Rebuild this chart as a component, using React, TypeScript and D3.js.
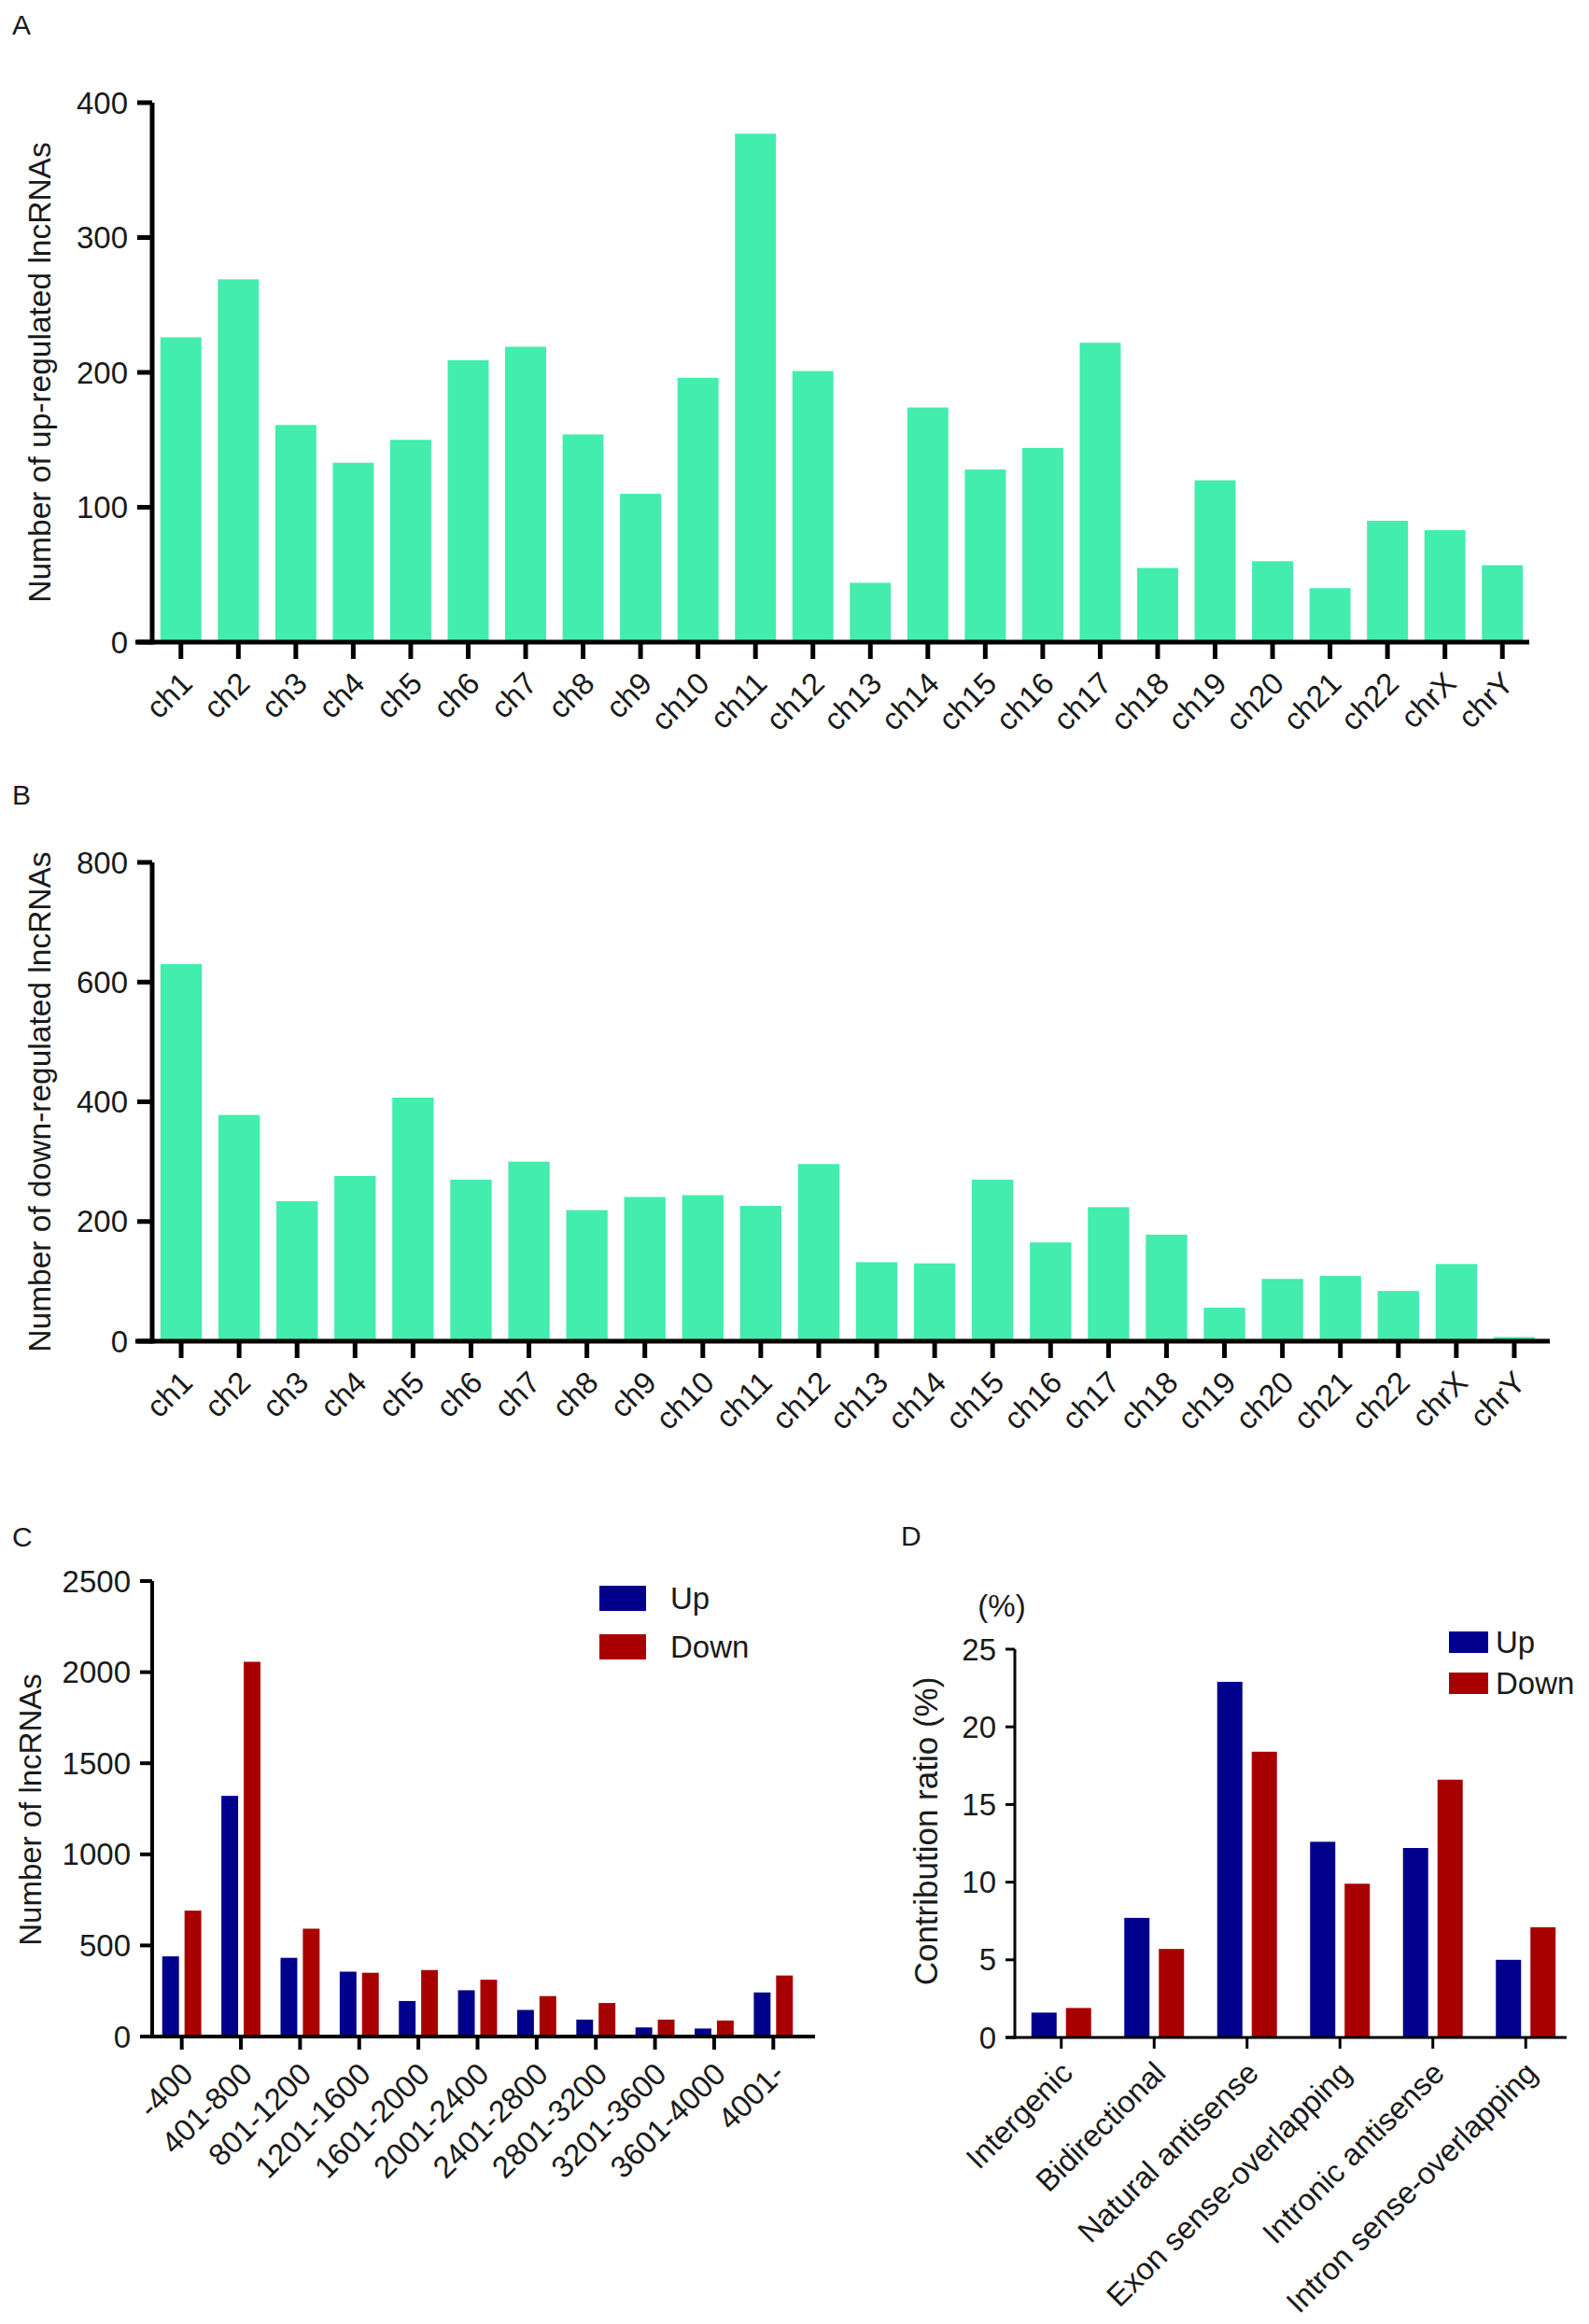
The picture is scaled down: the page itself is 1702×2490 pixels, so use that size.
import React, { useEffect } from "react";
import * as d3 from "d3";

// ---------- DATA ----------
const chromosomes = ["ch1","ch2","ch3","ch4","ch5","ch6","ch7","ch8","ch9","ch10","ch11","ch12","ch13","ch14","ch15","ch16","ch17","ch18","ch19","ch20","ch21","ch22","chrX","chrY"];
const upByChrom = [226,269,161,133,150,209,219,154,110,196,377,201,44,174,128,144,222,55,120,60,40,90,83,57];
const downByChrom = [630,378,234,276,407,270,300,219,241,244,226,296,132,130,270,165,224,178,56,104,109,84,129,7];
const aTicks = [0,100,200,300,400];
const bTicks = [0,200,400,600,800];

const lengthBins = ["-400","401-800","801-1200","1201-1600","1601-2000","2001-2400","2401-2800","2801-3200","3201-3600","3601-4000","4001-"];
const upByLength = [440,1321,432,356,195,254,146,93,50,44,242];
const downByLength = [691,2057,592,350,365,312,222,184,93,88,335];
const cTicks = [0,500,1000,1500,2000,2500];

const classes = ["Intergenic","Bidirectional","Natural antisense","Exon sense-overlapping","Intronic antisense","Intron sense-overlapping"];
const upRatio = [1.6,7.7,22.9,12.6,12.2,5.0];
const downRatio = [1.9,5.7,18.4,9.9,16.6,7.1];
const dTicks = [0,5,10,15,20,25];

const seriesNames = ["Up","Down"];

// ---------- STYLE ----------
const GREEN = "#43EDAD";
const BLUE = "#00008C";
const RED = "#A80000";
const FONT = "'Liberation Sans', Arial, Helvetica, sans-serif";
const TXT = "#1a1a1a";

type SingleProps = {
  cats: string[]; vals: number[]; ticks: number[];
  x0: number; x1: number; axisEnd: number; yTop: number; y0: number;
  title: string; titleX: number; titleSize: number; sw: number; tickLen: number; labDy: number;
};

function SinglePanel(p: SingleProps) {
  const x = d3.scaleBand<string>().domain(p.cats).range([p.x0, p.x1]).paddingInner(0.286).paddingOuter(0.143);
  const y = d3.scaleLinear().domain([0, p.ticks[p.ticks.length - 1]]).range([p.y0, p.yTop]);
  return (
    <g>
      {p.cats.map((c, i) => (
        <rect key={c} x={x(c)} y={y(p.vals[i])} width={x.bandwidth()} height={p.y0 - y(p.vals[i])} fill={GREEN} />
      ))}
      <line x1={p.x0} x2={p.x0} y1={y(p.ticks[p.ticks.length - 1])} y2={p.y0 + p.sw / 2} stroke="#000" strokeWidth={p.sw} />
      <line x1={p.x0 - p.tickLen} x2={p.axisEnd} y1={p.y0} y2={p.y0} stroke="#000" strokeWidth={p.sw} />
      {p.ticks.map((t) => (
        <g key={t}>
          <line x1={p.x0 - 16} x2={p.x0} y1={y(t)} y2={y(t)} stroke="#000" strokeWidth={p.sw} />
          <text x={p.x0 - 26} y={y(t)} dy="0.35em" textAnchor="end" fontSize={33} fill={TXT}>{t}</text>
        </g>
      ))}
      {p.cats.map((c) => {
        const cx = (x(c) as number) + x.bandwidth() / 2;
        return (
          <g key={c}>
            <line x1={cx} x2={cx} y1={p.y0} y2={p.y0 + p.tickLen} stroke="#000" strokeWidth={p.sw} />
            <text transform={`translate(${cx + 6},${p.y0 + p.labDy}) rotate(-45)`} textAnchor="end" dy="0.35em" fontSize={33} fill={TXT}>{c}</text>
          </g>
        );
      })}
      <text transform={`translate(${p.titleX},${(p.y0 + p.yTop) / 2}) rotate(-90)`} textAnchor="middle" dy="0.35em" fontSize={p.titleSize} fill={TXT}>{p.title}</text>
    </g>
  );
}

type GroupProps = {
  cats: string[]; up: number[]; down: number[]; ticks: number[];
  x0: number; x1: number; axisEnd: number; yTop: number; y0: number;
  inner: number; sub: number; sw: number; yTickLen: number; xTickLen: number; labDy: number;
  title: string; titleX: number; titleY: number; titleSize: number; fontSize: number;
};

function GroupPanel(p: GroupProps) {
  const x = d3.scaleBand<string>().domain(p.cats).range([p.x0, p.x1]).paddingInner(p.inner).paddingOuter(p.inner / 2);
  const xs = d3.scaleBand<string>().domain(seriesNames).range([0, x.bandwidth()]).paddingInner(p.sub);
  const y = d3.scaleLinear().domain([0, p.ticks[p.ticks.length - 1]]).range([p.y0, p.yTop]);
  const colors = [BLUE, RED];
  return (
    <g>
      {p.cats.map((c, i) => (
        <g key={c}>
          {[p.up[i], p.down[i]].map((v, k) => (
            <rect key={k} x={(x(c) as number) + (xs(seriesNames[k]) as number)} y={y(v)} width={xs.bandwidth()} height={p.y0 - y(v)} fill={colors[k]} />
          ))}
        </g>
      ))}
      <line x1={p.x0} x2={p.x0} y1={y(p.ticks[p.ticks.length - 1])} y2={p.y0 + p.sw / 2} stroke="#000" strokeWidth={p.sw} />
      <line x1={p.x0 - p.yTickLen} x2={p.axisEnd} y1={p.y0} y2={p.y0} stroke="#000" strokeWidth={p.sw} />
      {p.ticks.map((t) => (
        <g key={t}>
          <line x1={p.x0 - p.yTickLen} x2={p.x0} y1={y(t)} y2={y(t)} stroke="#000" strokeWidth={p.sw} />
          <text x={p.x0 - p.yTickLen - 10} y={y(t)} dy="0.35em" textAnchor="end" fontSize={33} fill={TXT}>{t}</text>
        </g>
      ))}
      {p.cats.map((c) => {
        const cx = (x(c) as number) + x.bandwidth() / 2;
        return (
          <g key={c}>
            <line x1={cx} x2={cx} y1={p.y0} y2={p.y0 + p.xTickLen} stroke="#000" strokeWidth={p.sw} />
            <text transform={`translate(${cx + 6},${p.y0 + p.labDy}) rotate(-45)`} textAnchor="end" dy="0.35em" fontSize={p.fontSize} fill={TXT}>{c}</text>
          </g>
        );
      })}
      <text transform={`translate(${p.titleX},${p.titleY}) rotate(-90)`} textAnchor="middle" dy="0.35em" fontSize={p.titleSize} fill={TXT}>{p.title}</text>
    </g>
  );
}

function Legend({ x, y, w, h, gap, tx }: { x: number; y: number; w: number; h: number; gap: number; tx: number }) {
  const colors = [BLUE, RED];
  return (
    <g>
      {seriesNames.map((s, i) => (
        <g key={s}>
          <rect x={x} y={y + i * gap} width={w} height={h} fill={colors[i]} />
          <text x={tx} y={y + i * gap + h / 2} dy="0.35em" fontSize={33} fill={TXT}>{s}</text>
        </g>
      ))}
    </g>
  );
}

export default function App() {
  useEffect(() => {
    document.body.style.margin = "0";
  }, []);
  return (
    <svg width={1702} height={2490} viewBox="0 0 1702 2490" style={{ display: "block", background: "#fff", fontFamily: FONT }}>
      <rect width={1702} height={2490} fill="#fff" />
      {/* Panel A */}
      <text x={13} y={37} fontSize={30} fill={TXT}>A</text>
      <SinglePanel cats={chromosomes} vals={upByChrom} ticks={aTicks}
        x0={163} x1={1640} axisEnd={1638} yTop={110} y0={688}
        title="Number of up-regulated lncRNAs" titleX={42} titleSize={33.5} sw={5} tickLen={18} labDy={38} />
      {/* Panel B */}
      <text x={13} y={862} fontSize={30} fill={TXT}>B</text>
      <SinglePanel cats={chromosomes} vals={downByChrom} ticks={bTicks}
        x0={163} x1={1653} axisEnd={1660} yTop={924} y0={1437}
        title="Number of down-regulated lncRNAs" titleX={42} titleSize={33.5} sw={5} tickLen={18} labDy={38} />
      {/* Panel C */}
      <text x={13} y={1657} fontSize={30} fill={TXT}>C</text>
      <GroupPanel cats={lengthBins} up={upByLength} down={downByLength} ticks={cTicks}
        x0={163} x1={860} axisEnd={873} yTop={1694} y0={2182}
        inner={0.34} sub={0.25} sw={4} yTickLen={13} xTickLen={14} labDy={34}
        title="Number of lncRNAs" titleX={32} titleY={1939} titleSize={33} fontSize={33} />
      <Legend x={642} y={1699} w={50} h={27} gap={52} tx={718} />
      {/* Panel D */}
      <text x={965} y={1656} fontSize={30} fill={TXT}>D</text>
      <text x={1073} y={1720} dy="0.35em" textAnchor="middle" fontSize={33} fill={TXT}>(%)</text>
      <GroupPanel cats={classes} up={upRatio} down={downRatio} ticks={dTicks}
        x0={1087} x1={1684} axisEnd={1678} yTop={1767} y0={2183}
        inner={0.357} sub={0.27} sw={3} yTickLen={10} xTickLen={12} labDy={32}
        title="Contribution ratio (%)" titleX={992} titleY={1962} titleSize={35} fontSize={33} />
      <Legend x={1552} y={1748} w={42} h={23} gap={44} tx={1602} />
    </svg>
  );
}
